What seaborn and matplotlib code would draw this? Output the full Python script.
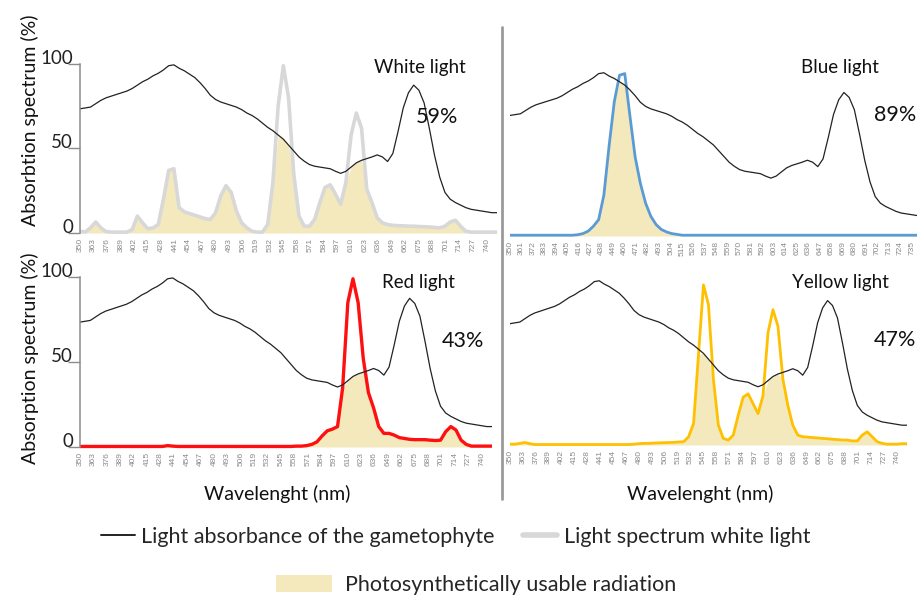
import numpy as np
import pandas as pd
import matplotlib
matplotlib.use('Agg')
import matplotlib.pyplot as plt
import seaborn as sns
from matplotlib.lines import Line2D
from matplotlib.patches import Patch

# Data (5 nm steps from 350 to 750 nm)
wavelength = list(range(350, 755, 5))

absorbance = [73.5, 74, 74.5, 76.5, 78.5, 80, 81, 82, 83, 84,
              85.5, 87.5, 89.5, 91, 93, 94.5, 96.5, 99, 99.5, 97.5,
              96, 94, 92, 89, 85.5, 81.5, 79, 77.5, 76.5, 75.5,
              74.5, 73, 71, 69.5, 67.5, 65, 62.5, 60.5, 58, 55.5,
              52, 48.5, 45, 42.5, 40.5, 39.5, 39, 38.5, 38, 36.5,
              35.3, 36.5, 39, 41.5, 43, 44, 45, 46.2, 45, 42.3,
              47, 60, 74, 83, 87.5, 84.5, 77, 62, 46, 33,
              24, 20, 18, 16.5, 15, 14, 13.5, 13, 12.5, 12, 12]

white_light = [1, 0.5, 3, 6.5, 3, 0.8, 0.5, 0.5, 0.5, 0.5,
               2, 10, 6, 2.5, 3, 5, 20, 37, 38, 15,
               12.5, 11.5, 10.5, 9.5, 8.5, 8, 12, 22, 28, 24,
               13, 6, 3, 1, 0.5, 0.5, 5, 30, 75, 99,
               80, 35, 10, 4, 4, 8, 18, 27, 28.5, 23,
               17, 30, 58, 71, 62, 26, 18, 9, 6, 5,
               4.5, 4.3, 4.2, 4, 4, 3.8, 3.7, 3.5, 3.3, 3,
               4, 6.5, 7.5, 4, 1, 0.5, 0.5, 0.5, 0.5, 0.5, 0.5]

blue_light = [0.5, 0.5, 0.5, 0.5, 0.5, 0.5, 0.5, 0.5, 0.5, 0.5,
              0.5, 0.5, 0.5, 0.8, 1.5, 3, 6, 10, 25, 55,
              82, 98, 99, 73, 48, 32, 20, 12, 7, 4,
              2.5, 1.5, 1, 0.5, 0.5, 0.5, 0.5, 0.5, 0.5, 0.5,
              0.5, 0.5, 0.5, 0.5, 0.5, 0.5, 0.5, 0.5, 0.5, 0.5,
              0.5, 0.5, 0.5, 0.5, 0.5, 0.5, 0.5, 0.5, 0.5, 0.5,
              0.5, 0.5, 0.5, 0.5, 0.5, 0.5, 0.5, 0.5, 0.5, 0.5,
              0.5, 0.5, 0.5, 0.5, 0.5, 0.5, 0.5, 0.5, 0.5, 0.5, 0.5]

red_light = [0.3, 0.3, 0.3, 0.3, 0.3, 0.3, 0.3, 0.3, 0.3, 0.3,
             0.3, 0.3, 0.3, 0.3, 0.3, 0.3, 0.3, 0.8, 0.5, 0.3,
             0.3, 0.3, 0.3, 0.3, 0.3, 0.3, 0.3, 0.3, 0.3, 0.3,
             0.3, 0.3, 0.3, 0.3, 0.3, 0.3, 0.3, 0.3, 0.3, 0.3,
             0.3, 0.3, 0.5, 0.5, 0.8, 1.5, 3, 6.5, 9.5, 10.5,
             12, 35, 85, 99, 85, 52, 32, 23, 12, 8,
             8, 7, 5.5, 5, 4.5, 4.3, 4.3, 4.3, 4, 3.8,
             4, 9, 12, 10, 4, 1.5, 0.5, 0.5, 0.5, 0.5, 0.5]

yellow_light = [0.5, 0.5, 1, 1.5, 0.8, 0.3, 0.3, 0.3, 0.3, 0.3,
                0.3, 0.3, 0.3, 0.3, 0.3, 0.3, 0.3, 0.3, 0.3, 0.3,
                0.3, 0.3, 0.3, 0.3, 0.3, 0.5, 0.8, 1, 1, 1.2,
                1.3, 1.4, 1.5, 1.6, 1.8, 2, 5, 13, 55, 97,
                85, 40, 12, 4, 3, 6, 18, 29, 31, 25,
                19, 30, 68, 82, 72, 40, 24, 12, 6, 5,
                4.8, 4.5, 4.3, 4, 3.8, 3.5, 3.3, 3, 3, 2.5,
                2.5, 6, 8, 5, 2, 1, 0.5, 0.5, 0.5, 0.8, 0.8]

panel_titles = ['White light', 'Blue light', 'Red light', 'Yellow light']
percentages = ['59%', '89%', '43%', '47%']
tick_left = list(range(350, 741, 13))
tick_blue = list(range(350, 736, 11))

df = pd.DataFrame({'wl': wavelength, 'absorb': absorbance, 'white': white_light,
                   'blue': blue_light, 'red': red_light, 'yellow': yellow_light})

sns.set_theme(style='white')
plt.rcParams['font.family'] = ['Lato', 'DejaVu Sans']

fig = plt.figure(figsize=(9.2, 5.98), dpi=100)

fill_col = '#f4e8bd'
panels = [
    ('white', '#d8d8d8', 2.6, [0.0870, 0.6062, 0.4533, 0.291], 750, tick_left, True),
    ('blue', '#5b9bd5', 2.0, [0.5543, 0.6012, 0.4424, 0.2826], 740, tick_blue, False),
    ('red', '#ff1010', 2.4, [0.0870, 0.2483, 0.4478, 0.2926], 750, tick_left, True),
    ('yellow', '#ffc000', 2.0, [0.5543, 0.2517, 0.4315, 0.2843], 750, tick_left, False),
]

axes = []
for col, color, lw, rect, xmax, ticks, show_y in panels:
    ax = fig.add_axes(rect)
    usable = np.minimum(df['absorb'], df[col])
    ax.fill_between(df['wl'], 0, usable, color=fill_col, lw=0)
    sns.lineplot(data=df, x='wl', y=col, ax=ax, color=color, lw=lw)
    sns.lineplot(data=df, x='wl', y='absorb', ax=ax, color='#222222', lw=0.9)
    ax.set_xlim(350, xmax)
    ax.set_ylim(-1.5, 101.5)
    ax.set_xlabel('')
    ax.set_ylabel('')
    ax.set_xticks(ticks)
    ax.set_xticklabels([str(t) for t in ticks], rotation=90, fontsize=6, color='#8a8a8a',
                       family=['Liberation Sans', 'DejaVu Sans'])
    ax.tick_params(axis='x', length=0, pad=2)
    for s in ['top', 'right', 'bottom']:
        ax.spines[s].set_visible(False)
    if show_y:
        ax.spines['left'].set_color('#8c8c8c')
        ax.spines['left'].set_linewidth(1.1)
        ax.spines['left'].set_bounds(0, 100)
        ax.set_yticks([0, 50, 100])
        ax.set_yticklabels(['0', '50', '100'], fontsize=13.5, color='#222222')
        ax.tick_params(axis='y', length=9, width=1, color='#8c8c8c', pad=-4, left=True)
        plt.setp(ax.get_yticklabels(), va='baseline')
    else:
        ax.spines['left'].set_visible(False)
        ax.set_yticks([])
    axes.append(ax)

# panel texts
title_pos = [(0.4565, 0.8863), (0.913, 0.8863), (0.4543, 0.5284), (0.913, 0.5284)]
pct_pos = [(0.475, 0.8043), (0.9728, 0.8077), (0.5033, 0.4298), (0.9728, 0.4314)]
for t, p, tp, pp in zip(panel_titles, percentages, title_pos, pct_pos):
    fig.text(tp[0], tp[1], t, ha='center', va='center', fontsize=13.5, color='#111111')
    fig.text(pp[0], pp[1], p, ha='center', va='center', fontsize=15.5, color='#111111')

fig.text(0.033, 0.7993, 'Absorbtion spectrum (%)', rotation=90, ha='center', va='center',
         fontsize=14, color='#111111')
fig.text(0.033, 0.4013, 'Absorption spectrum (%)', rotation=90, ha='center', va='center',
         fontsize=14, color='#111111')
fig.text(0.301, 0.174, 'Wavelenght (nm)', ha='center', va='center', fontsize=14, color='#111111')
fig.text(0.761, 0.174, 'Wavelenght (nm)', ha='center', va='center', fontsize=14, color='#111111')

# divider between the panels
fig.add_artist(Line2D([0.5457, 0.5457], [0.165, 0.955], color='#9a9a9a', lw=2))

# legend
h1 = [Line2D([], [], color='#222222', lw=1.4), Line2D([], [], color='#d8d8d8', lw=4)]
fig.legend(h1, ['Light absorbance of the gametophyte', 'Light spectrum white light'],
           loc='center', bbox_to_anchor=(0.495, 0.102), ncol=2, frameon=False,
           fontsize=15.5, handlelength=1.6, columnspacing=1.3, handletextpad=0.3)
h2 = [Patch(facecolor=fill_col, edgecolor='none')]
fig.legend(h2, ['Photosynthetically usable radiation'], loc='center',
           bbox_to_anchor=(0.518, 0.0217), frameon=False, fontsize=15.5,
           handlelength=2.6, handleheight=0.8, handletextpad=0.6)

fig.savefig('out.png', dpi=100)
